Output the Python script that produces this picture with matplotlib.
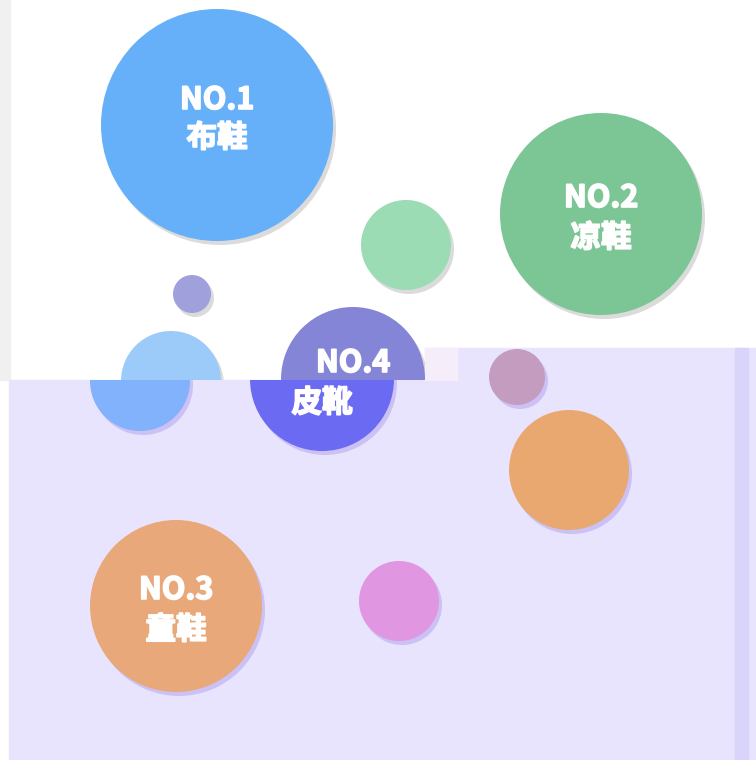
import matplotlib.pyplot as plt
import matplotlib.patheffects as pe
from matplotlib.patches import Circle, Rectangle, Polygon

plt.rcParams['font.family'] = ['Noto Sans CJK SC', 'DejaVu Sans']

# bubble data (pixel space of the original chart)
bubble_x = [217, 601, 406, 192, 171, 353, 548, 600, 207, 430]
bubble_y = [125, 214, 245, 294, 381, 379, 377, 470, 606, 601]
bubble_r = [116, 101, 45, 19, 50, 72, 28, 60, 86, 40]
rank = ["NO.1", "NO.2", "", "", "", "NO.4", "", "", "NO.3", ""]
names = ["布鞋", "凉鞋", "", "", "", "皮靴", "", "", "童鞋", ""]
top_colors = ["#66aff9", "#7cc595", "#9cdcb4", "#a0a0dc", "#9ccbfa",
              "#8585d8", "#c49cc0", "#e8a870", "#e8a87a", "#e096e0"]
bottom_colors = ["#66aff9", "#7cc595", "#9cdcb4", "#a0a0dc", "#82b2fb",
                 "#6a6af2", "#c49cc0", "#e8a870", "#e8a87a", "#e096e0"]

fig = plt.figure(figsize=(7.56, 7.6), dpi=100)
ax = fig.add_axes([0, 0, 1, 1])
ax.set_xlim(0, 756)
ax.set_ylim(760, 0)
ax.axis('off')

# backgrounds
ax.add_patch(Rectangle((0, 0), 756, 760, color="white", zorder=0))
ax.add_patch(Rectangle((0, 0), 10, 380, color="#f0f0f0", zorder=0))
bottom_poly = [(9, 380), (425, 380), (425, 348), (756, 348), (756, 760), (9, 760)]
ax.add_patch(Polygon(bottom_poly, closed=True, color="#e8e4fe", zorder=0))
ax.add_patch(Rectangle((425, 348), 32, 32, color="#f5eefa", zorder=0))
ax.add_patch(Rectangle((735, 348), 13, 412, color="#d8d4fa", zorder=0))

top_clip = Polygon([(10, 0), (756, 0), (756, 348), (425, 348), (425, 380), (10, 380)],
                   closed=True, transform=ax.transData)
bot_clip = Polygon([(9, 380), (425, 380), (425, 348), (735, 348), (735, 760), (9, 760)],
                   closed=True, transform=ax.transData)

text_dy = {"NO.1": (-25, 13)}
stroke = [pe.withStroke(linewidth=1.2, foreground="white")]


def in_top(y):
    return y < 380


def draw_pass(dx, clip, colors, shadow, top):
    for i in range(len(bubble_x)):
        x = bubble_x[i] + dx
        y = bubble_y[i]
        r = bubble_r[i]
        s = Circle((x + 3, y + 4), r, color=shadow, alpha=0.3, lw=0, zorder=2)
        c = Circle((x, y), r, color=colors[i], lw=0, zorder=3)
        ax.add_patch(s)
        ax.add_patch(c)
        s.set_clip_path(clip)
        c.set_clip_path(clip)
        if rank[i]:
            d1, d2 = text_dy.get(rank[i], (-16, 24))
            for txt, dy, fs in ((rank[i], d1, 22), (names[i], d2, 22)):
                if in_top(y + dy) == top:
                    ax.text(x, y + dy, txt, color="white", fontsize=fs,
                            fontweight="bold", ha="center", va="center",
                            zorder=4, path_effects=stroke)


draw_pass(0, top_clip, top_colors, "#888888", True)
draw_pass(-31, bot_clip, bottom_colors, "#8a70e0", False)

fig.savefig("out.png", dpi=100)
